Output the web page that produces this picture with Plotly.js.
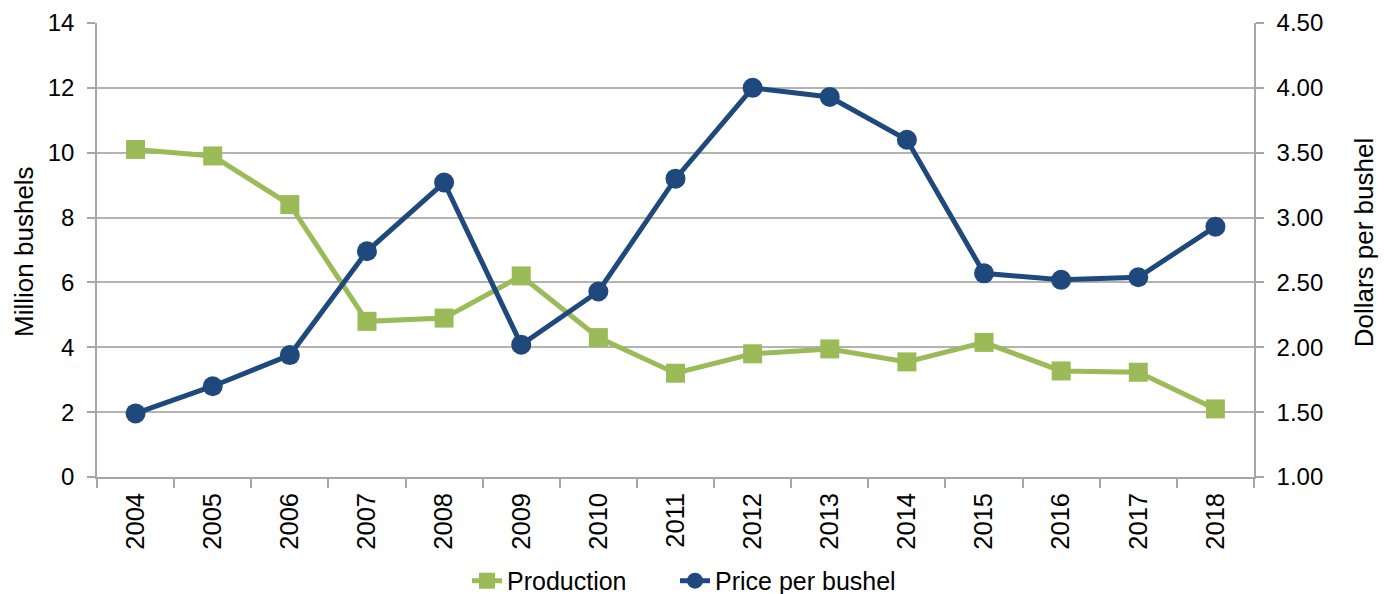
<!DOCTYPE html>
<html>
<head>
<meta charset="utf-8">
<script src="https://cdn.plot.ly/plotly-3.0.1.min.js"></script>
<style>body{margin:0;background:#fff;}#chart{width:1393px;height:594px;}</style>
</head>
<body>
<div id="chart"></div>
<script>
const years = ["2004","2005","2006","2007","2008","2009","2010","2011","2012","2013","2014","2015","2016","2017","2018"];
const production = [10.1, 9.9, 8.4, 4.8, 4.9, 6.2, 4.3, 3.2, 3.8, 3.95, 3.55, 4.15, 3.27, 3.23, 2.1];
const price = [1.49, 1.70, 1.94, 2.74, 3.27, 2.02, 2.43, 3.30, 4.00, 3.93, 3.60, 2.57, 2.52, 2.54, 2.93];
const leftTitle = "Million bushels";
const rightTitle = "Dollars per bushel";

const font = "Liberation Sans, Arial, sans-serif";
const data = [
  {x: years, y: production, name: "Production", type: "scatter", mode: "lines+markers", legend: "legend",
   line: {color: "#9bbb59", width: 5}, marker: {symbol: "square", size: 19, color: "#9bbb59"}, yaxis: "y"},
  {x: years, y: price, name: "Price per bushel", type: "scatter", mode: "lines+markers", legend: "legend2",
   line: {color: "#1f497d", width: 5}, marker: {symbol: "circle", size: 20, color: "#1f497d"}, yaxis: "y2"}
];
const legendBase = {orientation: "h", xref: "container", xanchor: "left", y: -0.229, yanchor: "middle",
                    font: {size: 25, family: font}, itemclick: false, bgcolor: "rgba(0,0,0,0)"};
const layout = {
  width: 1393, height: 594,
  margin: {l: 97, r: 139, t: 23, b: 117, autoexpand: false},
  paper_bgcolor: "#fff", plot_bgcolor: "#fff",
  font: {family: font, color: "#000", size: 25},
  showlegend: true,
  legend: Object.assign({}, legendBase, {x: 467 / 1393}),
  legend2: Object.assign({}, legendBase, {x: 675 / 1393}),
  xaxis: {type: "category", range: [-0.5, 14.5], tickson: "boundaries", ticks: "outside", ticklen: 9, tickcolor: "#a6a6a6", tickwidth: 1.5,
          showline: true, linecolor: "#a6a6a6", linewidth: 1.5, showgrid: false, tickangle: -90,
          ticklabelstandoff: 4,
          tickfont: {size: 25.5, family: font}, zeroline: false},
  yaxis: {range: [0, 14], dtick: 2, ticks: "outside", ticklen: 8, tickcolor: "#a6a6a6", tickwidth: 1.5,
          showline: true, linecolor: "#a6a6a6", linewidth: 1.5, gridcolor: "#b3b3b3", gridwidth: 1.5,
          ticklabelstandoff: 8,
          zeroline: false, tickfont: {size: 24, family: font}},
  yaxis2: {range: [1, 4.5], dtick: 0.5, tickformat: ".2f", overlaying: "y", side: "right",
           ticks: "outside", ticklen: 8, tickcolor: "#a6a6a6", tickwidth: 1.5, showline: true, linecolor: "#a6a6a6", linewidth: 1.5,
           ticklabelstandoff: 8,
           showgrid: false, zeroline: false, tickfont: {size: 24, family: font}},
  annotations: [
    {text: leftTitle, xref: "paper", yref: "paper", x: -0.0631, y: 0.498, textangle: -90,
     showarrow: false, xanchor: "center", yanchor: "middle", font: {size: 26, family: font, color: "#000"}},
    {text: rightTitle, xref: "paper", yref: "paper", x: 1.0951, y: 0.517, textangle: -90,
     showarrow: false, xanchor: "center", yanchor: "middle", font: {size: 26, family: font, color: "#000"}}
  ]
};
Plotly.newPlot("chart", data, layout, {displayModeBar: false});
</script>
</body>
</html>
